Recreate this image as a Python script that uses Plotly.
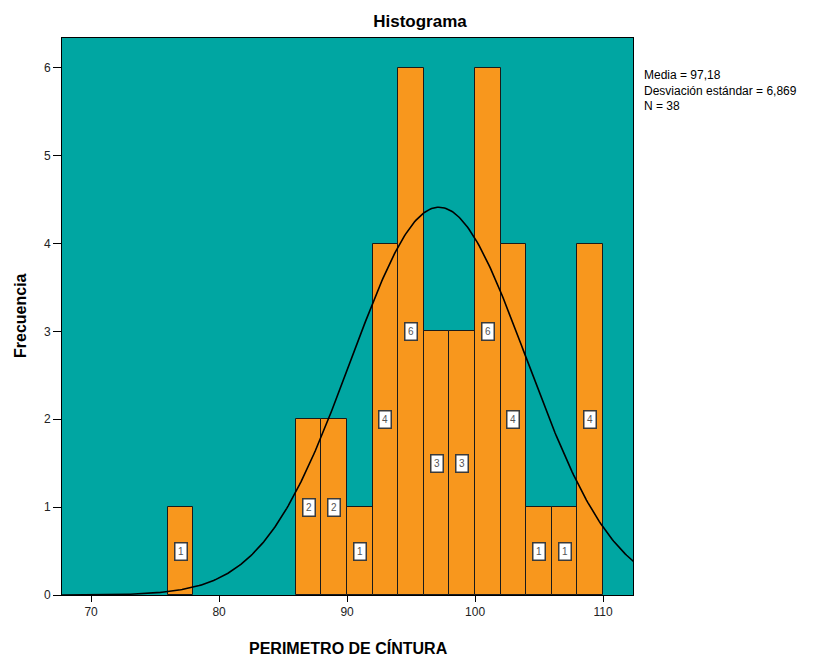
import numpy as np
import plotly.graph_objects as go

# Histogram bins (width 2) and frequencies
bin_starts = [76, 86, 88, 90, 92, 94, 96, 98, 100, 102, 104, 106, 108]
counts = [1, 2, 2, 1, 4, 6, 3, 3, 6, 4, 1, 1, 4]
bin_width = 2

# Summary statistics shown in the legend box
mean = 97.18
std = 6.869
n = 38

x_ticks = [70, 80, 90, 100, 110]
y_ticks = [0, 1, 2, 3, 4, 5, 6]

TEAL = "#00A6A2"
ORANGE = "#F8971D"
FONT = "Liberation Sans, Arial, sans-serif"

# plot area in pixels
L, R, T, B = 62, 633, 38, 595
W, H = 834, 657

centers = [s + bin_width / 2 for s in bin_starts]

fig = go.Figure()
fig.add_trace(go.Bar(
    x=centers, y=counts, width=[bin_width] * len(counts),
    marker=dict(color=ORANGE, line=dict(color="#1a1a1a", width=1)),
    hoverinfo="x+y", showlegend=False,
))

# Fitted normal curve scaled to counts
xs = np.linspace(67.7, 112.4, 400)
ys = n * bin_width * np.exp(-0.5 * ((xs - mean) / std) ** 2) / (std * np.sqrt(2 * np.pi))
fig.add_trace(go.Scatter(x=xs, y=ys, mode="lines",
                         line=dict(color="black", width=1.6),
                         hoverinfo="skip", showlegend=False))

# Count labels at mid-height of each bar
for c, v in zip(centers, counts):
    fig.add_annotation(x=c, y=v / 2, text=str(v), showarrow=False,
                       font=dict(family=FONT, size=10, color="#555555"),
                       bgcolor="white", bordercolor="#3a3a3a", borderwidth=1.5,
                       borderpad=2.5)

def px(xp):
    return (xp - L) / (R - L)

def py(yp):
    return 1 - (yp - T) / (B - T)

fig.add_annotation(
    xref="paper", yref="paper", showarrow=False,
    x=px(642), y=py(66),
    text=f"Media = {mean:.2f}".replace(".", ",")
         + "<br>" + f"Desviación estándar = {std:.3f}".replace(".", ",")
         + "<br>" + f"N = {n}",
    xanchor="left", yanchor="top", align="left",
    font=dict(family=FONT, size=12, color="black"),
)

# Axis titles
fig.add_annotation(xref="paper", yref="paper", showarrow=False,
                   x=px(348), y=py(648), xanchor="center", yanchor="middle",
                   text="<b>PERIMETRO DE CÍNTURA</b>",
                   font=dict(family=FONT, size=16, color="black"))
fig.add_annotation(xref="paper", yref="paper", showarrow=False,
                   x=px(20), y=py(316), xanchor="center", yanchor="middle",
                   textangle=-90, text="<b>Frecuencia</b>",
                   font=dict(family=FONT, size=16, color="black"))

fig.update_layout(
    width=W, height=H,
    margin=dict(l=L, r=W - R, t=T, b=H - B),
    paper_bgcolor="white", plot_bgcolor=TEAL,
    bargap=0,
    title=dict(text="<b>Histograma</b>", x=420 / W, xanchor="center",
               y=1 - 21 / H, yanchor="middle",
               font=dict(family=FONT, size=17, color="black")),
    font=dict(family=FONT, size=12, color="black"),
)
fig.update_xaxes(
    range=[67.73, 112.34], tickvals=x_ticks, ticks="outside", ticklen=6,
    tickcolor="black", showgrid=False, zeroline=False, automargin=False,
    showline=True, linecolor="black", linewidth=1, mirror=True,
    tickfont=dict(family=FONT, size=12, color="#222222"),
)
fig.update_yaxes(
    range=[0, 6.34], tickvals=y_ticks, ticks="outside", ticklen=8,
    tickcolor="black", showgrid=False, zeroline=False, automargin=False,
    showline=True, linecolor="black", linewidth=1, mirror=True,
    tickfont=dict(family=FONT, size=12, color="#222222"),
)

fig.write_html("out.html")
